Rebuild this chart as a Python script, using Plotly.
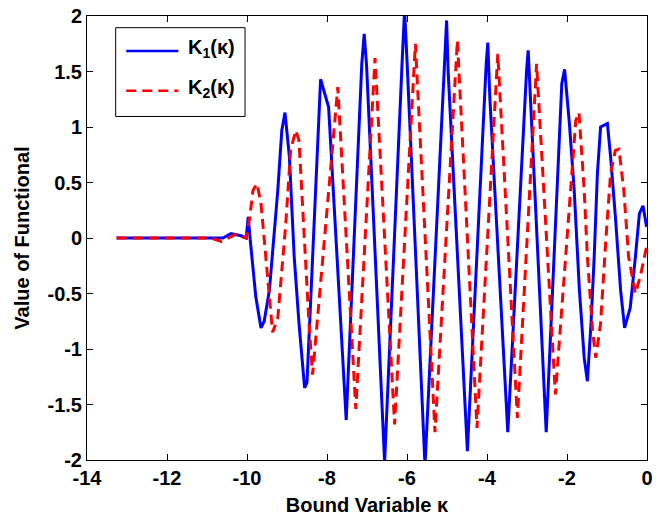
import plotly.graph_objects as go

# K1(kappa): bound variable and functional values
kappa_k1 = [-13.26, -11.0, -10.6, -10.4, -10.15, -10.02, -9.97, -9.91, -9.78,
            -9.65, -9.57, -9.44, -9.23, -9.13, -9.05, -8.94, -8.82, -8.70,
            -8.56, -8.50, -8.16, -7.96, -7.52, -7.13, -7.07, -7.01, -6.56,
            -6.12, -6.06, -6.0, -5.55, -5.07, -5.01, -4.97, -4.49, -4.02,
            -3.98, -3.93, -3.48, -3.01, -2.97, -2.52, -2.13, -2.06, -1.94,
            -1.82, -1.69, -1.57, -1.49, -1.40, -1.32, -1.24, -1.16, -0.99,
            -0.91, -0.79, -0.66, -0.56, -0.42, -0.29, -0.19, -0.10, -0.04,
            -0.01]
k1 = [0.0, 0.0, 0.0, 0.04, 0.02, 0.0, 0.19, -0.05, -0.53,
      -0.81, -0.75, -0.47, 0.43, 0.97, 1.13, 0.73, -0.17, -0.77,
      -1.35, -1.30, 1.43, 1.18, -1.64, 1.57, 1.84, 1.55, -2.02,
      1.60, 2.05, 1.60, -2.05, 1.51, 1.96, 1.49, -1.92, 1.57,
      1.76, 1.27, -1.75, 1.51, 1.69, -1.75, 1.39, 1.52, 1.03,
      0.43, -0.47, -1.08, -1.29, -0.77, -0.17, 0.58, 1.00, 1.03,
      0.73, 0.19, -0.47, -0.81, -0.63, -0.17, 0.22, 0.29, 0.13,
      0.10]

# K2(kappa): bound variable and functional values
kappa_k2 = [-13.26, -10.9, -10.64, -10.3, -10.02, -9.93, -9.85, -9.75, -9.65,
            -9.52, -9.36, -9.23, -9.03, -8.91, -8.78, -8.70, -8.57, -8.45,
            -8.36, -7.73, -7.28, -6.80, -6.31, -5.79, -5.30, -4.74, -4.25,
            -3.73, -3.24, -2.76, -2.29, -1.78, -1.70, -1.57, -1.49, -1.36,
            -1.28, -1.16, -1.03, -0.91, -0.79, -0.70, -0.58, -0.46, -0.29,
            -0.17, -0.01]
k2 = [0.0, 0.0, -0.03, 0.03, 0.0, 0.19, 0.43, 0.49, 0.31,
      -0.23, -0.85, -0.72, 0.13, 0.79, 0.97, 0.88, -0.02, -0.77,
      -1.23, 1.36, -1.54, 1.62, -1.68, 1.75, -1.75, 1.78, -1.71,
      1.66, -1.62, 1.57, -1.41, 1.06, 1.13, 0.43, -0.17, -0.84,
      -1.08, -0.77, -0.02, 0.58, 0.79, 0.80, 0.43, -0.17, -0.50,
      -0.35, -0.08]

x_ticks = [-14, -12, -10, -8, -6, -4, -2, 0]
x_tick_labels = ["-14", "-12", "-10", "-8", "-6", "-4", "-2", "0"]
y_ticks = [-2, -1.5, -1, -0.5, 0, 0.5, 1, 1.5, 2]
y_tick_labels = ["-2", "-1.5", "-1", "-0.5", "0", "0.5", "1", "1.5", "2"]

series_names = ["K<sub>1</sub>(κ)", "K<sub>2</sub>(κ)"]
series_colors = ["rgb(0,0,255)", "rgb(255,0,0)"]
series_dash = ["solid", "10px,6px"]

FONT = "Liberation Sans, Arial, Helvetica, sans-serif"
bold = dict(family=FONT, size=20, color="black", weight="bold")

fig = go.Figure()
for xs, ys, name, color, dash in zip([kappa_k1, kappa_k2], [k1, k2],
                                     series_names, series_colors, series_dash):
    fig.add_trace(go.Scatter(
        x=xs, y=ys, mode="lines", name=name, showlegend=False,
        line=dict(color=color, width=3, dash=dash),
    ))

axis_common = dict(
    showline=True, linecolor="black", linewidth=1, mirror="ticks",
    ticks="inside", ticklen=6, tickcolor="black", tickwidth=1,
    showgrid=False, zeroline=False, tickfont=bold,
    ticklabeloverflow="allow",
)

# Boxed legend in the upper-left corner of the axes (paper coordinates)
legend_box = dict(x0=0.0512, x1=0.2822, y0=0.7737, y1=0.9737)
legend_rows = [0.9213, 0.8315]
shapes = [dict(type="rect", xref="paper", yref="paper", line=dict(color="black", width=1),
               fillcolor="white", layer="above", **legend_box)]
annotations = []
for row_y, name, color, dash in zip(legend_rows, series_names, series_colors, series_dash):
    shapes.append(dict(type="line", xref="paper", yref="paper", layer="above",
                       x0=0.0701, x1=0.1631, y0=row_y, y1=row_y,
                       line=dict(color=color, width=2.6, dash=dash)))
    annotations.append(dict(xref="paper", yref="paper", x=0.1767, y=row_y + 0.006,
                            xanchor="left", yanchor="middle", showarrow=False,
                            text=name, font=bold))

fig.update_layout(
    width=658, height=518,
    margin=dict(l=87, r=5, t=15, b=58),
    paper_bgcolor="white", plot_bgcolor="white",
    font=dict(family=FONT, color="black"),
    showlegend=False,
    shapes=shapes, annotations=annotations,
    xaxis=dict(range=[-14, 0], tickmode="array", tickvals=x_ticks,
               ticktext=x_tick_labels,
               title=dict(text="Bound Variable κ", font=bold, standoff=9),
               **axis_common),
    yaxis=dict(range=[-2, 2], tickmode="array", tickvals=y_ticks,
               ticktext=y_tick_labels,
               title=dict(text="Value of Functional", font=bold, standoff=12),
               **axis_common),
)

fig.write_html("out.html")
